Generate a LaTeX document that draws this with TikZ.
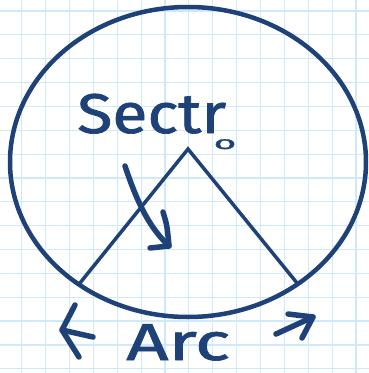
\documentclass[tikz,border=0pt]{standalone}
\usepackage{fontspec}
\usepackage{graphicx}
\newfontfamily\hand[FakeBold=1.2]{Fira Sans}
\definecolor{ink}{RGB}{30,66,120}
\definecolor{gridblue}{RGB}{208,233,250}
\tikzset{
  gridline/.style={draw=gridblue, line width=1.2pt},
  inkline/.style={draw=ink, line width=4.5pt, line cap=round, line join=round},
  stroke/.style={draw=ink, line width=5.5pt, line cap=round, line join=round},
  handtext/.style={text=ink, inner sep=0pt, font=\hand}
}
\begin{document}
\begin{tikzpicture}[x=1pt,y=-1pt]
  \useasboundingbox (0,0) rectangle (369,373);
  \fill[white] (0,0) rectangle (369,373);
  % grid
  \foreach \i in {0,...,14} {
    \draw[gridline] ({21.7+23.88*\i},0) -- ({21.7+23.88*\i},373);
  }
  \foreach \j in {0,...,15} {
    \draw[gridline] (0,{11+23.85*\j}) -- (369,{11+23.85*\j});
  }
  % circle
  \coordinate (c) at (188,162);
  \draw[inkline] (c) ellipse [x radius=178, y radius=155];
  % sector
  \coordinate (apex) at (188,149);
  \coordinate (left) at (80,283);
  \coordinate (right) at (297,283);
  \draw[draw=ink, line width=3.5pt, line cap=round, line join=miter] (left) -- (apex) -- (right);
  % label Sectro
  \node[handtext, anchor=base west, font=\hand\fontsize{56}{56}\selectfont, xscale=1.15] (sectro) at (77,133)
    {Sectr\kern-11pt\raisebox{-16pt}{\fontsize{26}{26}\selectfont\scalebox{1.3}[0.7]{o}}};
  % curved arrow
  \coordinate (s0) at (125,166);
  \coordinate (s1) at (169,246);
  \coordinate (b1) at (163,212);
  \coordinate (b2) at (150,248);
  \draw[stroke] (s0) .. controls (138,205) and (150,228) .. (s1);
  \draw[stroke] (b1) .. controls (167,225) .. (s1) -- (b2);
  % label Arc
  \node[handtext, anchor=base west, font=\hand\fontsize{52}{52}\selectfont, xscale=1.42] (arc) at (126,360) {Arc};
  % left arrow
  \coordinate (lt) at (62,330);
  \coordinate (lu) at (75,305);
  \coordinate (ld) at (79,357);
  \coordinate (ls) at (93,337);
  \draw[stroke] (lu) -- (lt) -- (ld);
  \draw[stroke] (lt) -- (ls);
  % right arrow
  \coordinate (rs) at (276,334);
  \coordinate (rt) at (313,317);
  \coordinate (ru) at (288,314);
  \coordinate (rd) at (302,338);
  \draw[stroke] (rs) -- (rt);
  \draw[stroke] (ru) -- (rt) -- (rd);
\end{tikzpicture}
\end{document}
